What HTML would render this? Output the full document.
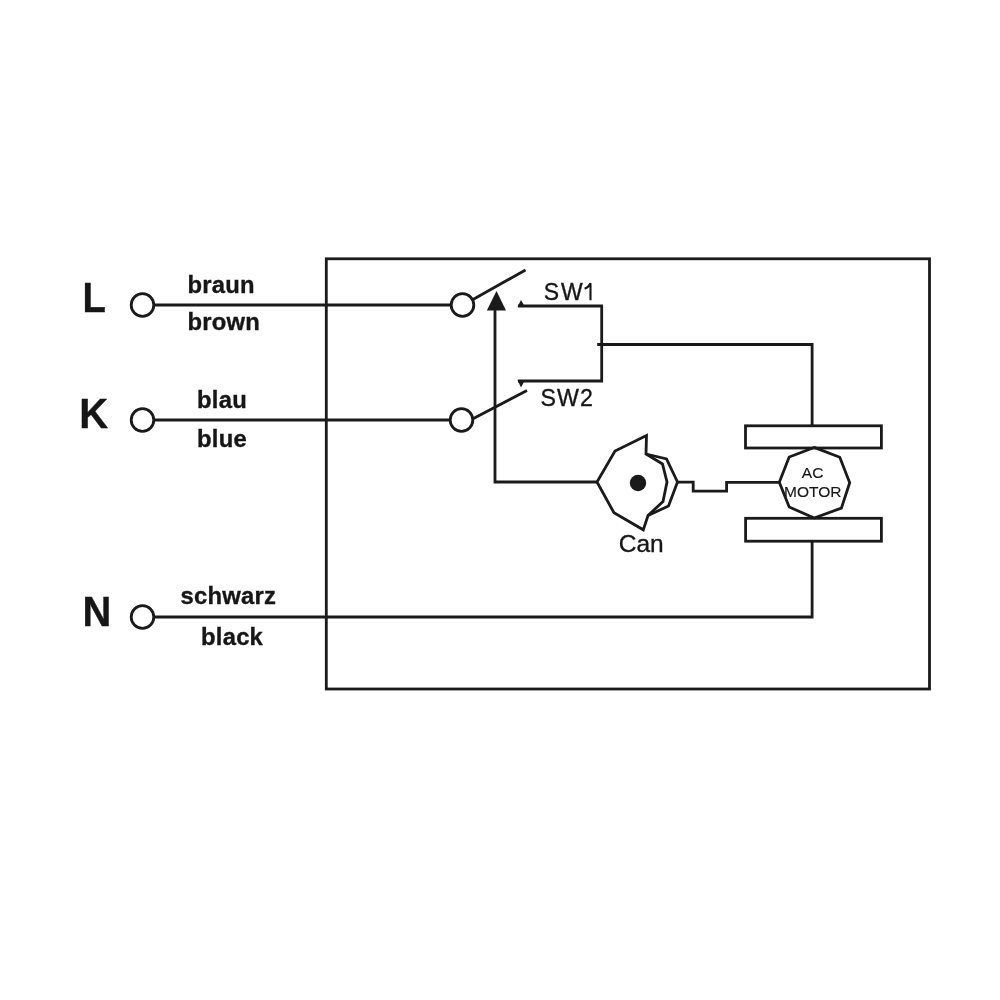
<!DOCTYPE html>
<html><head><meta charset="utf-8">
<style>
html,body{margin:0;padding:0;background:#fff;width:1000px;height:1000px;overflow:hidden}
svg{display:block;will-change:transform}
text{font-family:"Liberation Sans",sans-serif;fill:#161616;stroke:#161616;stroke-width:0.35px}
.b{font-weight:bold;letter-spacing:0.25px}
</style></head><body>
<svg width="1000" height="1000" viewBox="0 0 1000 1000">
<g fill="none" stroke="#1a1a1a" stroke-width="2.8" stroke-linejoin="miter" stroke-linecap="butt">
  <!-- enclosure -->
  <rect x="326.3" y="258.8" width="603.2" height="430.2"/>
  <!-- terminals -->
  <circle cx="142.5" cy="305" r="11.3"/>
  <circle cx="142.5" cy="420" r="11.3"/>
  <circle cx="142.5" cy="617" r="11.3"/>
  <circle cx="462.5" cy="305" r="11.3"/>
  <circle cx="461.5" cy="420" r="11.3"/>
  <!-- wires -->
  <line x1="153.8" y1="305" x2="451.2" y2="305"/>
  <line x1="153.8" y1="420" x2="450.2" y2="420"/>
  <polyline points="153.8,617 812.1,617 812.1,541.2"/>
  <!-- switch levers -->
  <line x1="473" y1="299.5" x2="525.5" y2="270"/>
  <line x1="472.5" y1="419" x2="527" y2="390.5"/>
  <!-- contacts -->
  <polyline points="518,306 601.7,306 601.7,381 518,381"/>
  <polyline points="597.2,344.5 812.1,344.5 812.1,425.6"/>
  <!-- arrow vertical -->
  <polyline points="495,308 495,482 597,482"/>
  <!-- motor rects -->
  <rect x="745.5" y="425.8" width="135.9" height="22.2"/>
  <rect x="745.6" y="518.3" width="135.8" height="22.9"/>
  <!-- octagon -->
  <polygon points="814.2,447.4 839.8,457.3 849.7,482.8 841.4,508.1 814.2,518 789.2,507 779.3,482.3 789.2,457"/>
  <!-- link cam->motor -->
  <polyline points="677.6,482.1 693.2,482.1 693.2,491.2 726.6,491.2 726.6,482.4 779.3,482.4"/>
  <!-- cam -->
  <polygon points="597,482 615,451 646.5,435.5 646,454 662.5,464 667,482 663,501.5 648,515.5 643.3,529.8 614,512.8"/>
  <polyline points="646,454 666.5,459 677.5,482 668.5,506 648,515.5"/>
</g>
<g fill="#1a1a1a" stroke="none">
  <polygon points="496.5,291 486.8,310.5 506,310.5"/>
  <polygon points="521,300 517.5,307 525,307"/>
  <polygon points="521,387.5 517.5,380 525,380"/>
  <circle cx="638" cy="483" r="8.2"/>
</g>
<text class="b" transform="translate(82.5,312.1) scale(0.91,1)" font-size="42">L</text>
<text class="b" transform="translate(79.3,428.2) scale(0.955,1)" font-size="42">K</text>
<text class="b" transform="translate(82.5,626.1) scale(0.95,1)" font-size="42">N</text>
<text class="b" x="187.5" y="292.7" font-size="23.8">braun</text>
<text class="b" x="187.5" y="330.3" font-size="23.8">brown</text>
<text class="b" x="197" y="407.5" font-size="23.8">blau</text>
<text class="b" x="197" y="447" font-size="23.8">blue</text>
<text class="b" x="180.5" y="603.8" font-size="23.8">schwarz</text>
<text class="b" x="201" y="644.6" font-size="23.8">black</text>
<text x="543.7" y="299.6" font-size="23" letter-spacing="2">SW</text>
<path d="M590.5,300.2 V283.2 C589.4,285.6 587.2,287.8 584.6,288.8" fill="none" stroke="#161616" stroke-width="2.1"/>
<text x="540.6" y="406.3" font-size="23.2" letter-spacing="1">SW2</text>
<text x="618.8" y="551.8" font-size="24.5">Can</text>
<text x="801.8" y="478" font-size="15.5" style="stroke-width:0.15px">AC</text>
<text x="784" y="497.4" font-size="15.5" style="stroke-width:0.15px">MOTOR</text>
</svg>
</body></html>
